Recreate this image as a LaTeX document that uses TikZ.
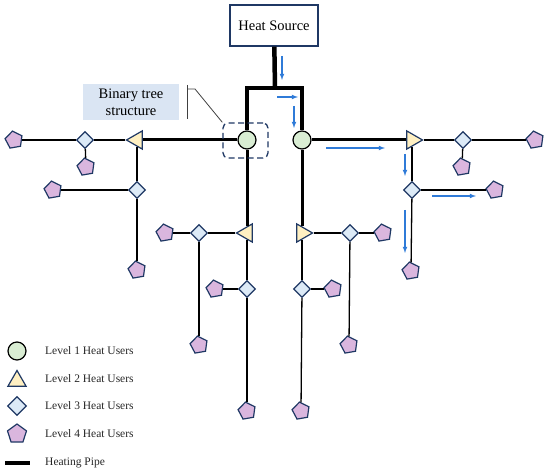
\documentclass[tikz,border=0pt]{standalone}
\usepackage{fontspec}
\setmainfont{Liberation Serif}
\usetikzlibrary{shapes.geometric}
\definecolor{navy}{HTML}{1F3864}
\definecolor{lvlone}{HTML}{D9EDD3}
\definecolor{lvltwo}{HTML}{FFF0C2}
\definecolor{lvlthree}{HTML}{DCEAF7}
\definecolor{lvlfour}{HTML}{DAB6DE}
\definecolor{flowblue}{HTML}{2F7BD8}
\definecolor{labelfill}{HTML}{DAE5F3}
\begin{document}
\begin{tikzpicture}[x=1pt, y=-1pt,
        userone/.style={circle, draw=black, fill=lvlone, line width=1.2pt, minimum size=18pt, inner sep=0pt},
        usertwo/.style={regular polygon, regular polygon sides=3, draw=navy, fill=lvltwo, line width=1.2pt, minimum size=21pt, inner sep=0pt},
        userthree/.style={diamond, draw=navy, fill=lvlthree, line width=1.2pt, minimum width=17pt, minimum height=17pt, inner sep=0pt},
        userfour/.style={regular polygon, regular polygon sides=5, draw=navy, fill=lvlfour, line width=1.2pt, minimum size=18pt, inner sep=0pt, shape border rotate=10},
        mainpipe/.style={line width=4.5pt, line join=miter},
        branchpipe/.style={line width=3pt},
        midpipe/.style={line width=2pt},
        pipe/.style={line width=1.3pt},
        flow/.style={->, >=latex, flowblue, line width=1.1pt},
        legendtext/.style={font=\fontsize{11.5}{13}\selectfont, anchor=west, inner sep=0pt, text=black!85}
    ]
        \useasboundingbox (0,0) rectangle (550,476);

        % Source de chaleur
        \node[draw=navy, line width=1.2pt, minimum width=88pt, minimum height=41pt, font=\fontsize{14.5}{16}\selectfont] (Src) at (274,25.5) {Heat Source};

        % Jonction du tuyau principal
        \coordinate (J) at (275,88);
        \coordinate (JL) at (247,88);
        \coordinate (JR) at (302,88);

        % Niveau 1
        \node[userone] (C1) at (247,140) {};
        \node[userone] (C2) at (302,140) {};

        % Niveau 2
        \node[usertwo, shape border rotate=90] (T1) at (137,140) {};
        \node[usertwo, shape border rotate=90] (T2) at (247,233) {};
        \node[usertwo, shape border rotate=-90] (T3) at (412,140) {};
        \node[usertwo, shape border rotate=-90] (T4) at (302,233) {};

        % Niveau 3
        \node[userthree] (D1) at (85,140) {};
        \node[userthree] (D2) at (137,190) {};
        \node[userthree] (D3) at (199,233) {};
        \node[userthree] (D4) at (247,289) {};
        \node[userthree] (D5) at (463,140) {};
        \node[userthree] (D6) at (412,190) {};
        \node[userthree] (D7) at (350,233) {};
        \node[userthree] (D8) at (302,289) {};

        % Niveau 4
        \node[userfour] (P1) at (14,140) {};
        \node[userfour] (P2) at (86,167) {};
        \node[userfour] (P3) at (53,190) {};
        \node[userfour] (P4) at (137,270) {};
        \node[userfour] (P5) at (165,233) {};
        \node[userfour] (P6) at (199,345) {};
        \node[userfour] (P7) at (215,289) {};
        \node[userfour] (P8) at (247,411) {};
        \node[userfour] (P9) at (535,140) {};
        \node[userfour] (P10) at (462,167) {};
        \node[userfour] (P11) at (495,190) {};
        \node[userfour] (P12) at (411,271) {};
        \node[userfour] (P13) at (383,233) {};
        \node[userfour] (P14) at (349,345) {};
        \node[userfour] (P15) at (333,289) {};
        \node[userfour] (P16) at (301,411) {};

        % Tuyau principal
        \draw[mainpipe] (Src) -- (J);
        \draw[mainpipe] (C1) -- (JL) -- (JR) -- (C2);

        % Branches du niveau 1
        \draw[branchpipe] (C1) -- (T1);
        \draw[branchpipe] (C1) -- (T2);
        \draw[branchpipe] (C2) -- (T3);
        \draw[branchpipe] (C2) -- (T4);
        \draw[midpipe] (T2) -- (D4);
        \draw[midpipe] (T4) -- (D8);

        % Branches fines
        \draw[pipe] (T1) -- (D1);
        \draw[pipe] (D1) -- (P1);
        \draw[pipe] (D1) -- (P2);
        \draw[pipe] (T1) -- (D2);
        \draw[pipe] (D2) -- (P3);
        \draw[pipe] (D2) -- (P4);
        \draw[pipe] (T2) -- (D3);
        \draw[pipe] (D3) -- (P5);
        \draw[pipe] (D3) -- (P6);
        \draw[pipe] (D4) -- (P7);
        \draw[pipe] (D4) -- (P8);
        \draw[pipe] (T3) -- (D5);
        \draw[pipe] (D5) -- (P9);
        \draw[pipe] (D5) -- (P10);
        \draw[pipe] (T3) -- (D6);
        \draw[pipe] (D6) -- (P11);
        \draw[pipe] (D6) -- (P12);
        \draw[pipe] (T4) -- (D7);
        \draw[pipe] (D7) -- (P13);
        \draw[pipe] (D7) -- (P14);
        \draw[pipe] (D8) -- (P15);
        \draw[pipe] (D8) -- (P16);

        % Sens de l'ecoulement (fleches bleues)
        \coordinate (F1a) at (282,56);  \coordinate (F1b) at (282,80);
        \coordinate (F2a) at (277,97);  \coordinate (F2b) at (298,97);
        \coordinate (F3a) at (294,106); \coordinate (F3b) at (294,128);
        \coordinate (F4a) at (326,148); \coordinate (F4b) at (385,148);
        \coordinate (F5a) at (405,154); \coordinate (F5b) at (405,176);
        \coordinate (F6a) at (432,196); \coordinate (F6b) at (476,196);
        \coordinate (F7a) at (405,210); \coordinate (F7b) at (405,253);
        \draw[flow] (F1a) -- (F1b);
        \draw[flow] (F2a) -- (F2b);
        \draw[flow] (F3a) -- (F3b);
        \draw[flow] (F4a) -- (F4b);
        \draw[flow] (F5a) -- (F5b);
        \draw[flow] (F6a) -- (F6b);
        \draw[flow] (F7a) -- (F7b);

        % Structure en arbre binaire
        \node[draw=navy, dash pattern=on 6pt off 3.5pt, line width=1.3pt, rounded corners=5pt, minimum width=45pt, minimum height=35pt] (Grp) at (245.5,140.5) {};
        \node[fill=labelfill, minimum width=96pt, minimum height=36pt, align=center, inner sep=0pt, font=\fontsize{14.5}{17}\selectfont] (Lbl) at (131,102) {Binary tree\\structure};
        \coordinate (BK1) at (187,85);
        \coordinate (BK2) at (187,119);
        \coordinate (BK3) at (187,89);
        \coordinate (BK4) at (195,89);
        \draw[line width=0.8pt, black!75] (BK1) -- (BK2);
        \draw[line width=0.8pt, black!75] (BK3) -- (BK4) -- (Grp.north west);

        % Legende
        \node[userone] (LG1) at (17,351) {};
        \node[usertwo] (LG2) at (17,381) {};
        \node[userthree, minimum width=19pt, minimum height=19pt] (LG3) at (17,406) {};
        \node[userfour, minimum size=20pt, shape border rotate=0] (LG4) at (17,434) {};
        \coordinate (LP1) at (5,463);
        \coordinate (LP2) at (30,463);
        \draw[line width=3.5pt] (LP1) -- (LP2);
        \node[legendtext] (LT1) at (45,351) {Level 1 Heat Users};
        \node[legendtext] (LT2) at (45,379) {Level 2 Heat Users};
        \node[legendtext] (LT3) at (45,406) {Level 3 Heat Users};
        \node[legendtext] (LT4) at (45,434) {Level 4 Heat Users};
        \node[legendtext] (LT5) at (45,463) {Heating Pipe};
    \end{tikzpicture}
\end{document}
